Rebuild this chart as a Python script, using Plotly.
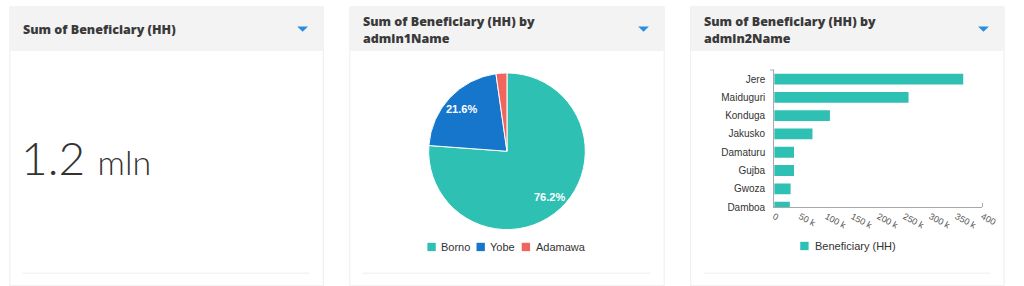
import math
import plotly.graph_objects as go

# ---- data -------------------------------------------------------------
total_value = "1.2"
total_unit = "mln"

states = ["Borno", "Yobe", "Adamawa"]
state_beneficiaries = [914000, 259000, 27000]
state_colors = ["#2ec0b3", "#1676cc", "#f0665e"]

lgas = ["Jere", "Maiduguri", "Konduga", "Jakusko", "Damaturu", "Gujba", "Gwoza", "Damboa"]
lga_beneficiaries = [363000, 258000, 107000, 73500, 38000, 38000, 31500, 30000]
bar_series_name = "Beneficiary (HH)"

x_tick_values = [0, 50000, 100000, 150000, 200000, 250000, 300000, 350000, 400000]
x_tick_labels = ["0", "50 k", "100 k", "150 k", "200 k", "250 k", "300 k", "350 k", "400"]

card_titles = [
    ["Sum of Beneficiary (HH)"],
    ["Sum of Beneficiary (HH) by", "admin1Name"],
    ["Sum of Beneficiary (HH) by", "admin2Name"],
]

# ---- page geometry helpers (pixel -> paper) ----------------------------
W, H = 1024, 286


def px(x):
    return x / W


def py(y):
    return 1 - y / H


TEAL = "#2ec0b3"
ARROW_BLUE = "#2b8ddf"
TITLE_COLOR = "#3a3a3a"
HEADER_BG = "#f3f3f3"
BORDER = "#ededed"
AXIS_COLOR = "#a8a8a8"
TITLE_FONT = "Open Sans"
CHART_FONT = "Liberation Sans"

cards = [(7, 326), (353, 673), (700, 1019)]

# pie placement (pixels)
PIE_CX, PIE_CY, PIE_R = 513, 154.5, 80

fig = go.Figure()

# ---- pie: beneficiaries by state ---------------------------------------
fig.add_trace(go.Pie(
    labels=states,
    values=state_beneficiaries,
    sort=False,
    direction="clockwise",
    rotation=0,
    marker=dict(colors=state_colors, line=dict(color="white", width=1)),
    textinfo="none",
    domain=dict(x=[px(PIE_CX - PIE_R), px(PIE_CX + PIE_R)],
                y=[py(PIE_CY + PIE_R), py(PIE_CY - PIE_R)]),
    showlegend=False,
    hoverinfo="label+value+percent",
))

# ---- horizontal bars: beneficiaries by LGA -----------------------------
fig.add_trace(go.Bar(
    y=lgas,
    x=lga_beneficiaries,
    orientation="h",
    name=bar_series_name,
    marker=dict(color=TEAL, line=dict(width=0)),
    showlegend=False,
    cliponaxis=True,
))

shapes = []
annotations = []

# card frames and grey headers
for (x0, x1) in cards:
    shapes.append(dict(type="rect", xref="paper", yref="paper",
                       x0=px(x0), x1=px(x1), y0=py(292), y1=py(7),
                       fillcolor="white", line=dict(color=BORDER, width=1),
                       layer="below"))
    shapes.append(dict(type="rect", xref="paper", yref="paper",
                       x0=px(x0), x1=px(x1), y0=py(52), y1=py(7),
                       fillcolor=HEADER_BG, line=dict(width=0),
                       layer="below"))
    # footer separator
    shapes.append(dict(type="line", xref="paper", yref="paper",
                       x0=px(x0 + 13), x1=px(x1 - 14), y0=py(279), y1=py(279),
                       line=dict(color="#eeeeee", width=1), layer="below"))
    # drop-down arrow in header
    ax = x1 - 21
    shapes.append(dict(type="path", xref="paper", yref="paper",
                       path=(f"M {px(ax - 5.5)} {py(27)} L {px(ax + 5.5)} {py(27)} "
                             f"L {px(ax)} {py(32.5)} Z"),
                       fillcolor=ARROW_BLUE, line=dict(width=0), layer="above"))

# small end ticks on the bar chart axes
shapes.append(dict(type="line", xref="x domain", yref="y domain",
                   x0=-0.02, x1=0, y0=1, y1=1,
                   line=dict(color=AXIS_COLOR, width=1)))
shapes.append(dict(type="line", xref="x domain", yref="y domain",
                   x0=1, x1=1, y0=0, y1=0.03,
                   line=dict(color=AXIS_COLOR, width=1)))

# card titles
for (x0, _), lines in zip(cards, card_titles):
    ys = [30.5] if len(lines) == 1 else [22, 39]
    for text, yy in zip(lines, ys):
        annotations.append(dict(
            text=text, xref="paper", yref="paper", x=px(x0 + 11.5), y=py(yy),
            xanchor="left", yanchor="middle", showarrow=False,
            font=dict(family=TITLE_FONT, size=12.5, color=TITLE_COLOR, weight=800),
        ))

# KPI value
annotations.append(dict(
    text=f"{total_value} <span style='font-size:34px'>{total_unit}</span>",
    xref="paper", yref="paper", x=px(16), y=py(160.5),
    xanchor="left", yanchor="middle", showarrow=False,
    font=dict(family="Lato", size=46, color="#333333", weight=300),
))

# pie slice percentage labels, placed on each slice's bisector
pie_total = sum(state_beneficiaries)
cum = 0.0
for v in state_beneficiaries:
    share = v / pie_total
    mid = (cum + share / 2) * 2 * math.pi
    cum += share
    if share < 0.05:
        continue
    lx = PIE_CX + 0.79 * PIE_R * math.sin(mid)
    ly = PIE_CY - 0.79 * PIE_R * math.cos(mid)
    annotations.append(dict(
        text=f"{share:.1%}", xref="paper", yref="paper", x=px(lx), y=py(ly),
        xanchor="center", yanchor="middle", showarrow=False,
        font=dict(family=CHART_FONT, size=11, color="white", weight="bold"),
    ))

# pie legend
legend_x = [432, 482, 528]
for name, color, lx in zip(states, state_colors, legend_x):
    shapes.append(dict(type="rect", xref="paper", yref="paper",
                       x0=px(lx), x1=px(lx + 8.5), y0=py(256.5), y1=py(248),
                       fillcolor=color, line=dict(width=0)))
    annotations.append(dict(
        text=name, xref="paper", yref="paper", x=px(lx + 12), y=py(252.5),
        xanchor="left", yanchor="middle", showarrow=False,
        font=dict(family=CHART_FONT, size=11, color="#333333"),
    ))

# bar legend
shapes.append(dict(type="rect", xref="paper", yref="paper",
                   x0=px(811.5), x1=px(820), y0=py(255.5), y1=py(247),
                   fillcolor=TEAL, line=dict(width=0)))
annotations.append(dict(
    text=bar_series_name, xref="paper", yref="paper", x=px(824), y=py(251.5),
    xanchor="left", yanchor="middle", showarrow=False,
    font=dict(family=CHART_FONT, size=11, color="#333333"),
))

fig.update_layout(
    width=W, height=H,
    margin=dict(l=0, r=0, t=0, b=0),
    paper_bgcolor="white",
    plot_bgcolor="white",
    bargap=0.41,
    showlegend=False,
    shapes=shapes,
    annotations=annotations,
    xaxis=dict(
        domain=[px(785), px(997)],
        range=[0, 400000],
        tickvals=x_tick_values,
        ticktext=x_tick_labels,
        tickangle=28,
        tickfont=dict(family=CHART_FONT, size=9, color="#555555"),
        showgrid=False, zeroline=False,
        showline=True, linecolor=AXIS_COLOR, linewidth=1,
        ticks="", fixedrange=True,
    ),
    yaxis=dict(
        domain=[py(211.5), py(71.5)],
        range=[7.0, -0.5],
        type="category",
        tickfont=dict(family=CHART_FONT, size=10, color="#333333"),
        showgrid=False, zeroline=False,
        showline=True, linecolor=AXIS_COLOR, linewidth=1,
        ticks="", ticklabelstandoff=6, fixedrange=True,
    ),
)

fig.write_html("out.html")
